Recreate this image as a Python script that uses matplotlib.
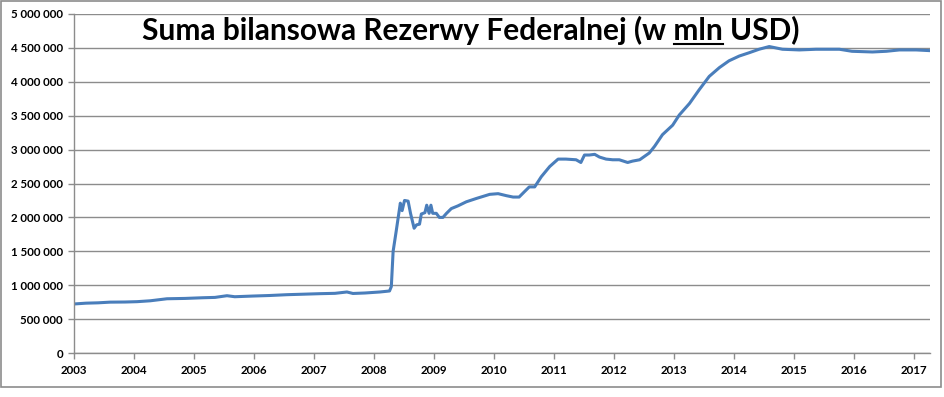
import matplotlib
matplotlib.use('Agg')
import matplotlib.pyplot as plt
from matplotlib.ticker import FuncFormatter, MultipleLocator
from matplotlib.lines import Line2D
from matplotlib.patches import Rectangle

# Fed balance sheet total, mln USD, x in decimal years
years = [2003.00, 2003.20, 2003.40, 2003.60, 2003.85, 2004.05, 2004.27, 2004.55, 2004.85,
         2005.15, 2005.35, 2005.55, 2005.68, 2005.98, 2006.26, 2006.55, 2006.85, 2007.10,
         2007.35, 2007.55, 2007.65, 2007.85, 2008.10, 2008.21, 2008.26, 2008.29, 2008.32,
         2008.37, 2008.44, 2008.47, 2008.51, 2008.57, 2008.61, 2008.67, 2008.71, 2008.76,
         2008.79, 2008.85, 2008.88, 2008.92, 2008.95, 2008.98, 2009.04, 2009.09, 2009.15,
         2009.21, 2009.29, 2009.40, 2009.54, 2009.71, 2009.93, 2010.07, 2010.21, 2010.32,
         2010.42, 2010.51, 2010.59, 2010.68, 2010.79, 2010.93, 2011.07, 2011.20, 2011.37,
         2011.45, 2011.51, 2011.59, 2011.68, 2011.76, 2011.87, 2011.98, 2012.09, 2012.23,
         2012.31, 2012.43, 2012.51, 2012.59, 2012.68, 2012.81, 2012.98, 2013.09, 2013.26,
         2013.42, 2013.59, 2013.76, 2013.92, 2014.09, 2014.26, 2014.42, 2014.59, 2014.81,
         2015.09, 2015.37, 2015.76, 2015.97, 2016.31, 2016.54, 2016.76, 2017.04, 2017.26]
values = [723000, 735000, 740000, 750000, 752000, 757000, 770000, 800000, 805000,
          815000, 820000, 845000, 830000, 840000, 848000, 860000, 868000, 875000,
          880000, 900000, 878000, 885000, 900000, 910000, 915000, 980000, 1500000,
          1790000, 2210000, 2100000, 2250000, 2240000, 2060000, 1840000, 1890000, 1900000,
          2050000, 2070000, 2180000, 2060000, 2180000, 2060000, 2060000, 2000000, 2000000,
          2060000, 2130000, 2170000, 2230000, 2280000, 2340000, 2350000, 2320000, 2300000,
          2300000, 2380000, 2450000, 2450000, 2600000, 2750000, 2860000, 2860000, 2850000,
          2810000, 2920000, 2920000, 2930000, 2890000, 2860000, 2850000, 2850000, 2810000,
          2830000, 2850000, 2900000, 2950000, 3050000, 3220000, 3360000, 3510000, 3680000,
          3880000, 4080000, 4210000, 4310000, 4380000, 4430000, 4480000, 4520000, 4480000,
          4470000, 4480000, 4480000, 4450000, 4440000, 4450000, 4470000, 4470000, 4460000]
year_ticks = list(range(2003, 2018))
title = 'Suma bilansowa Rezerwy Federalnej (w mln USD)'

fig = plt.figure(figsize=(9.45, 3.97), dpi=100)
ax = fig.add_axes([74/945, 1-353/397, (930-74)/945, (353-14)/397])

ax.plot(years, values, color='#4a7ebb', linewidth=2.2)

ax.set_xlim(2003, 2017.27)
ax.set_ylim(0, 5000000)
ax.yaxis.set_major_locator(MultipleLocator(500000))
ax.yaxis.set_major_formatter(FuncFormatter(lambda v, p: f'{int(v):,}'.replace(',', ' ')))
ax.set_xticks(year_ticks)
ax.set_xticklabels([str(y) for y in year_ticks])
ax.grid(axis='y', color='#8c8c8c', linewidth=1.0)
ax.set_axisbelow(True)
for s in ['top', 'right']:
    ax.spines[s].set_visible(False)
for s in ['left', 'bottom']:
    ax.spines[s].set_color('#8c8c8c')
    ax.spines[s].set_linewidth(1.0)
ax.tick_params(axis='both', direction='out', length=4, color='#8c8c8c', width=1.0)
ax.tick_params(axis='y', pad=4)
ax.tick_params(axis='x', pad=5)
for lab in ax.get_xticklabels() + ax.get_yticklabels():
    lab.set_fontfamily('Lato')
    lab.set_fontweight('bold')
    lab.set_fontsize(8.3)

# title with underlined "mln"
fs = 21.5
tx, ty = 471/945, 1-30/397
t = fig.text(tx, ty, title, ha='center', va='center', fontsize=fs,
             fontfamily='Lato', fontweight='bold')
fig.canvas.draw()
r = fig.canvas.get_renderer()
bb = t.get_window_extent(r)
pre = fig.text(0, 0, 'Suma bilansowa Rezerwy Federalnej (w ', fontsize=fs,
               fontfamily='Lato', fontweight='bold')
mid = fig.text(0, 0, 'mln', fontsize=fs, fontfamily='Lato', fontweight='bold')
w_pre = pre.get_window_extent(r).width
w_mid = mid.get_window_extent(r).width
pre.remove()
mid.remove()
x0 = (bb.x0 + w_pre) / fig.bbox.width
x1 = (bb.x0 + w_pre + w_mid) / fig.bbox.width
yl = (bb.y0 + 1) / fig.bbox.height
fig.add_artist(Line2D([x0, x1], [yl, yl], transform=fig.transFigure,
                      color='black', linewidth=1.5))

# outer chart frame
fig.add_artist(Rectangle((1/945, 1-387/397), 940/945, 386/397, transform=fig.transFigure,
                         fill=False, edgecolor='#8c8c8c', linewidth=1.2))

fig.savefig('out.png', dpi=100)
